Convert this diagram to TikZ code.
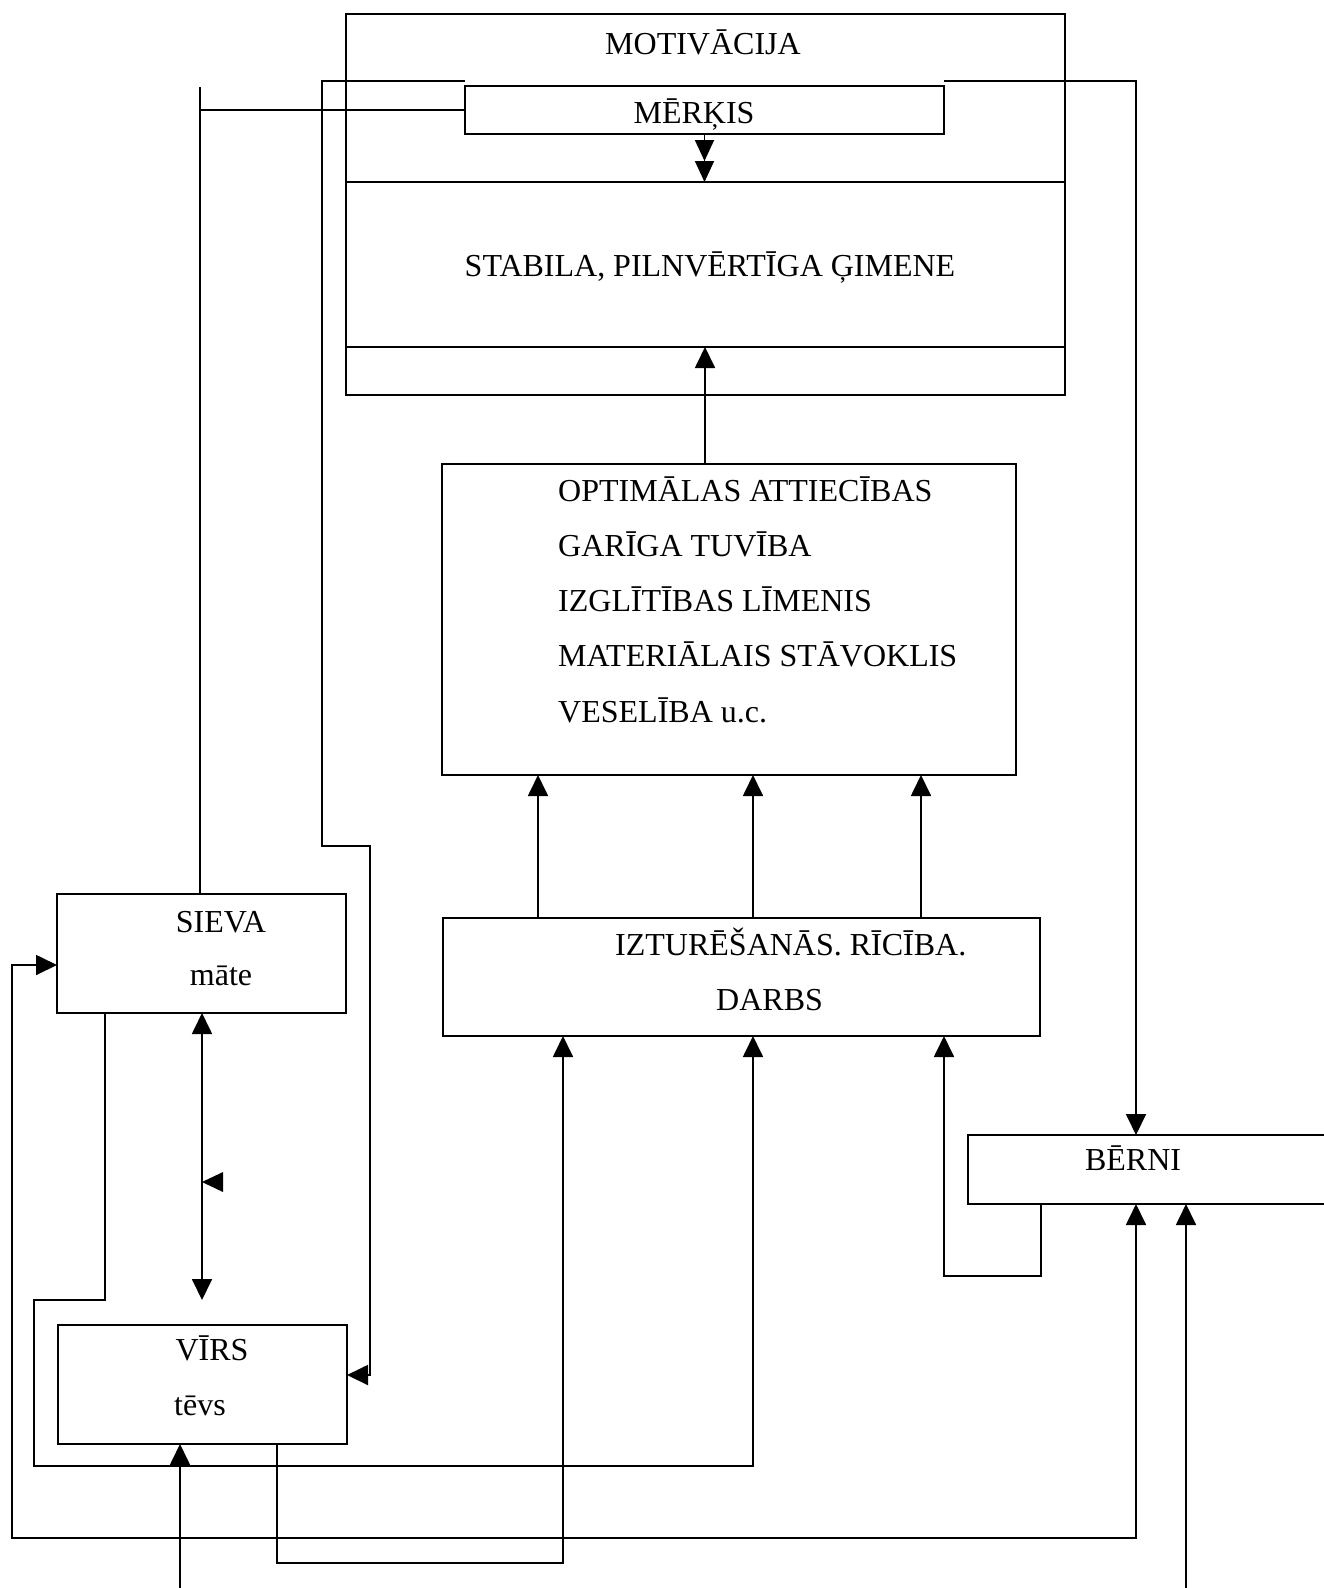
\documentclass[tikz,border=0pt]{standalone}
\usepackage{fontspec}
\setmainfont{Liberation Serif}
\usetikzlibrary{arrows.meta}
\begin{document}
\begin{tikzpicture}[x=1pt,y=-1pt,
 box/.style={draw,line width=1.8pt,inner sep=0pt,outer sep=0pt,anchor=north west},
 lbl/.style={font=\fontsize{32}{38}\selectfont,inner sep=0pt,anchor=base},
 lblw/.style={lbl,anchor=base west},
 ln/.style={line width=1.8pt},
 arr/.style={ln,-{Triangle[length=21pt,width=20pt]}},
 arrb/.style={ln,{Triangle[length=21pt,width=20pt]}-{Triangle[length=21pt,width=20pt]}},
 arrd/.style={ln,-{Triangle[length=21pt,width=19pt]Triangle[length=21pt,width=19pt]}}]
\useasboundingbox (0,0) rectangle (1324,1588);
\clip (0,0) rectangle (1324,1588);
% boxes
\node[box,minimum width=719pt,minimum height=381pt] (mot) at (346,14) {};
\node[box,minimum width=479pt,minimum height=48pt] (mk) at (465,86) {};
\node[box,minimum width=574pt,minimum height=311pt] (opt) at (442,464) {};
\node[box,minimum width=597pt,minimum height=118pt] (izt) at (443,918) {};
\node[box,minimum width=289pt,minimum height=119pt] (siev) at (57,894) {};
\node[box,minimum width=289pt,minimum height=119pt] (virs) at (58,1325) {};
\node[box,minimum width=380pt,minimum height=69pt] (bern) at (968,1135) {};
\coordinate (sepA) at (346,182);
\coordinate (sepB) at (346,347);
\draw[ln] (mot.west |- sepA) -- (mot.east |- sepA);
\draw[ln] (mot.west |- sepB) -- (mot.east |- sepB);
% texts
\node[lbl] (tmot) at (703,54) {MOTIVĀCIJA};
\node[lbl] (tmk) at (694,123) {MĒRĶIS};
\node[lbl] (tst) at (710,276) {STABILA, PILNVĒRTĪGA ĢIMENE};
\node[lblw] (to1) at (558,501) {OPTIMĀLAS ATTIECĪBAS};
\node[lblw] (to2) at (558,556) {GARĪGA TUVĪBA};
\node[lblw] (to3) at (558,611) {IZGLĪTĪBAS LĪMENIS};
\node[lblw] (to4) at (558,666) {MATERIĀLAIS STĀVOKLIS};
\node[lblw] (to5) at (558,722) {VESELĪBA u.c.};
\node[lblw] (ti1) at (615,955) {IZTURĒŠANĀS. RĪCĪBA.};
\node[lblw] (ti2) at (716,1010) {DARBS};
\node[lbl] (ts1) at (221,932) {SIEVA};
\node[lbl] (ts2) at (221,985) {māte};
\node[lbl] (tv1) at (212,1360) {VĪRS};
\node[lbl] (tv2) at (200,1415) {tēvs};
\node[lbl] (tb) at (1133,1170) {BĒRNI};
% connectors
\draw[arrd] (mk.south) -- (mk.south |- sepA);
\draw[arr] (705,0 |- opt.north) -- (705,0 |- sepB);
\draw[arr] (538,0 |- izt.north) -- (538,0 |- opt.south);
\draw[arr] (753,0 |- izt.north) -- (753,0 |- opt.south);
\draw[arr] (921,0 |- izt.north) -- (921,0 |- opt.south);
\draw[ln] (200,0 |- siev.north) -- (200,87);
\draw[ln] (200,0 |- mk.west) -- (mk.west);
\draw[arr] ([yshift=5pt]mk.north west) -- (322,81) -- (322,846) -- (370,846) -- (370,1375) -- (virs.east |- 0,1375);
\draw[arr] ([yshift=5pt]mk.north east) -- (1136,81) -- (1136,0 |- bern.north);
\draw[arr] (105,0 |- siev.south) -- (105,1300) -- (34,1300) -- (34,1466) -- (753,1466) -- (753,0 |- izt.south);
\draw[arrb] (siev.west |- 0,965) -- (12,965) -- (12,1538) -- (1136,1538) -- (1136,0 |- bern.south);
\draw[arr] (277,0 |- virs.south) -- (277,1563) -- (563,1563) -- (563,0 |- izt.south);
\draw[arr] (180,1600) -- (180,0 |- virs.south);
\draw[arr] (1186,1600) -- (1186,0 |- bern.south);
\draw[arrb] (202,0 |- siev.south) -- (202,1300);
\draw[arr] (1041,0 |- bern.south) -- (1041,1276) -- (944,1276) -- (944,0 |- izt.south);
\fill (202,1182) -- (223,1172) -- (223,1192) -- cycle;
\end{tikzpicture}
\end{document}
